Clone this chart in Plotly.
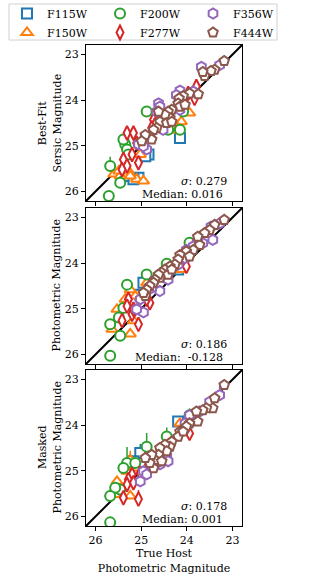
import plotly.graph_objects as go
from plotly.subplots import make_subplots

# ==========================================
# DATA (true host mag, recovered mag[, error])
# ==========================================
filters = ["F115W", "F150W", "F200W", "F277W", "F356W", "F444W"]
colors = {"F115W": "#1f77b4", "F150W": "#ff7f0e", "F200W": "#2ca02c",
          "F277W": "#d62728", "F356W": "#9467bd", "F444W": "#8c564b"}
symbols = {"F115W": "square", "F150W": "triangle-up", "F200W": "circle",
           "F277W": "diamond-tall", "F356W": "hexagon", "F444W": "pentagon"}
legend_rank = {"F115W": 1, "F200W": 2, "F356W": 3, "F150W": 4, "F277W": 5, "F444W": 6}

# panel 1: best-fit Sersic magnitude
sersic_f115w = [(24.15, 24.83), (24.84, 25.19), (24.91, 25.23), (25.06, 25.70), (25.17, 25.73), (25.39, 25.66)]
sersic_f150w = [(23.94, 24.28), (24.12, 24.47), (24.19, 24.61), (24.37, 24.66), (25.60, 25.62), (25.28, 25.55),
                (25.10, 25.73), (25.24, 25.66), (25.46, 25.66), (25.49, 25.55), (24.95, 25.77), (25.02, 25.19)]
sersic_f200w = [(24.88, 24.25), (24.15, 24.65), (24.08, 24.25), (24.41, 24.65), (25.35, 24.97), (25.31, 25.08),
                (25.28, 25.19), (25.68, 25.44, 0.2), (25.39, 24.86), (25.46, 25.81, 0.15), (25.71, 26.10)]
sersic_f277w = [(23.79, 23.70), (23.83, 23.96), (23.97, 23.85), (24.73, 24.43), (24.70, 24.54), (24.77, 24.61),
                (25.31, 24.72), (25.17, 24.72), (25.10, 24.94), (25.39, 25.30), (25.20, 25.19), (25.06, 25.37),
                (25.31, 25.44), (25.42, 25.52)]
sersic_f356w = [(23.68, 23.27), (23.28, 23.23), (24.15, 23.79), (24.23, 23.89), (23.86, 23.81), (24.62, 24.07),
                (24.59, 24.14), (24.66, 24.25), (24.15, 24.21), (24.52, 24.65), (24.91, 24.79), (24.88, 25.08),
                (25.06, 24.97), (24.95, 25.01)]
sersic_f444w = [(23.18, 23.14), (23.39, 23.33), (23.47, 23.36), (23.61, 23.47), (23.65, 23.38), (23.75, 23.87),
                (23.94, 23.85), (24.08, 23.91), (24.17, 23.96), (24.19, 24.07), (24.15, 24.14), (24.04, 24.10),
                (24.33, 24.21), (24.41, 24.25), (24.37, 24.39), (24.48, 24.32), (24.62, 24.25), (24.59, 24.47),
                (24.44, 24.50), (24.33, 24.47), (24.66, 24.61), (24.73, 24.65), (24.81, 24.79), (24.77, 24.86),
                (24.91, 24.76), (24.99, 24.90)]

# panel 2: photometric magnitude
phot_f115w = [(24.95, 24.43), (24.19, 24.14), (25.02, 24.69)]
phot_f150w = [(24.12, 24.14), (24.88, 24.43), (25.24, 24.58), (25.35, 24.79), (25.53, 25.01), (25.64, 25.45),
              (25.24, 25.55), (25.17, 25.26), (25.13, 24.72)]
phot_f200w = [(23.94, 23.55), (24.44, 24.01), (24.88, 24.25), (25.31, 24.47), (25.39, 24.98), (25.49, 25.19),
              (25.68, 25.34), (25.46, 25.59), (25.68, 26.03)]
phot_f277w = [(23.79, 23.49), (24.01, 24.07), (24.81, 24.87), (24.88, 24.72), (25.28, 24.79), (25.31, 24.94),
              (25.20, 25.12), (25.17, 25.01), (25.42, 25.26), (25.06, 25.34), (24.88, 24.79)]
phot_f356w = [(23.28, 23.13), (23.47, 23.20), (23.43, 23.49), (23.65, 23.56), (23.76, 23.53), (23.86, 23.63),
              (24.01, 23.71), (24.04, 23.89), (24.19, 24.03), (24.41, 24.36), (24.59, 24.61), (24.77, 24.54),
              (25.02, 24.79), (24.95, 25.08), (25.10, 25.01)]
phot_f444w = [(23.18, 23.05), (23.39, 23.16), (23.50, 23.27), (23.61, 23.34), (23.72, 23.60), (23.86, 23.71),
              (24.01, 23.74), (24.15, 23.82), (24.19, 23.92), (24.26, 24.03), (24.37, 24.07), (24.48, 24.14),
              (24.55, 24.21), (24.59, 24.32), (24.62, 24.25), (24.70, 24.36), (24.73, 24.43), (24.81, 24.50),
              (24.88, 24.58), (24.91, 24.72), (24.95, 24.65), (24.41, 24.25), (24.33, 24.14), (23.94, 23.85),
              (23.76, 23.42)]

# panel 3: masked photometric magnitude
masked_f115w = [(24.19, 23.92), (25.02, 24.61, 0.2), (25.17, 24.79)]
masked_f150w = [(24.15, 23.96), (25.13, 24.94), (25.24, 24.76, 0.2), (25.53, 25.23), (25.60, 25.44),
                (25.24, 25.55), (25.57, 25.52), (25.31, 25.01)]
masked_f200w = [(23.94, 23.78, 0.15), (24.44, 24.25, 0.2), (24.88, 24.47, 0.3), (25.31, 24.83, 0.35),
                (25.13, 24.83), (25.39, 24.94), (25.46, 25.41), (25.57, 25.37, 0.12), (25.68, 25.55), (25.68, 26.13)]
masked_f277w = [(23.94, 24.18, 0.15), (24.01, 24.07), (24.84, 24.86), (24.77, 24.83), (25.02, 25.05),
                (25.20, 25.08), (25.28, 25.19), (25.17, 25.26), (25.31, 25.30), (25.39, 25.59), (25.06, 25.62, 0.2)]
masked_f356w = [(23.28, 23.34, 0.2), (23.50, 23.49), (23.72, 23.70), (23.90, 23.85), (24.04, 23.96), (23.94, 23.78),
                (24.44, 24.68), (24.52, 24.79), (24.59, 24.86), (24.66, 24.83), (24.95, 25.01), (25.02, 25.23),
                (24.88, 25.08), (24.41, 24.79)]
masked_f444w = [(23.18, 23.12), (23.39, 23.41), (23.43, 23.63), (23.57, 23.63), (23.65, 23.67), (23.79, 23.70),
                (23.76, 23.92), (23.94, 23.96), (24.01, 24.03), (24.15, 24.14), (24.19, 24.25), (24.08, 24.14),
                (24.33, 24.36), (24.37, 24.47), (24.48, 24.43), (24.44, 24.57), (24.59, 24.50), (24.62, 24.65),
                (24.70, 24.76), (24.73, 24.94), (24.81, 24.83), (24.77, 24.65), (24.91, 24.72), (24.55, 24.79)]

panels = [
    dict(zip(filters, [sersic_f115w, sersic_f150w, sersic_f200w, sersic_f277w, sersic_f356w, sersic_f444w])),
    dict(zip(filters, [phot_f115w, phot_f150w, phot_f200w, phot_f277w, phot_f356w, phot_f444w])),
    dict(zip(filters, [masked_f115w, masked_f150w, masked_f200w, masked_f277w, masked_f356w, masked_f444w])),
]
y_titles = ["Best-Fit<br>Sersic Magnitude", "Photometric Magnitude", "Masked<br>Photometric Magnitude"]
sigmas = ["0.279", "0.186", "0.178"]
medians = ["0.016", "\u00a0-0.128", "0.001"]
mag_range = [26.21, 22.79]
mag_ticks = [26, 25, 24, 23]

FONT = "DejaVu Serif"
W, H = 320, 579

# ==========================================
# FIGURE
# ==========================================
fig = make_subplots(rows=3, cols=1, shared_xaxes=True)

for i, data in enumerate(panels):
    row = i + 1
    # 1:1 line
    fig.add_trace(go.Scatter(x=mag_range, y=mag_range, mode="lines",
                             line=dict(color="black", width=2), showlegend=False,
                             hoverinfo="skip"), row=row, col=1)
    for f in filters:
        pts = data[f]
        xs = [p[0] for p in pts]
        ys = [p[1] for p in pts]
        errs = [p[2] if len(p) > 2 else 0 for p in pts]
        fig.add_trace(go.Scatter(
            x=xs, y=ys, mode="markers", name=f,
            showlegend=(i == 0), legendrank=legend_rank[f],
            marker=dict(symbol=symbols[f], size=10, color="white",
                        line=dict(color=colors[f], width=2)),
            error_y=dict(type="data", array=[e * 0.3 for e in errs], arrayminus=errs,
                         color=colors[f], thickness=1.5, width=0, visible=any(errs)),
        ), row=row, col=1)

    sfx = str(row) if row > 1 else ""
    fig.add_annotation(xref=f"x{sfx} domain", yref=f"y{sfx} domain",
                       x=0.915, y=0.125, xanchor="right", yanchor="middle", showarrow=False,
                       text=f"<i>σ</i>: {sigmas[i]}", font=dict(family=FONT, size=11, color="black"))
    fig.add_annotation(xref=f"x{sfx} domain", yref=f"y{sfx} domain",
                       x=0.89, y=0.04, xanchor="right", yanchor="middle", showarrow=False,
                       text=f"Median: {medians[i]}", font=dict(family=FONT, size=11, color="black"))
    # y label, right-aligned next to the tick labels (like matplotlib)
    fig.add_annotation(xref="paper", yref=f"y{sfx} domain", x=65 / W, y=0.5,
                       xanchor="right", yanchor="middle", showarrow=False, textangle=-90,
                       text=y_titles[i], font=dict(family=FONT, size=11, color="black"))

# panel placement (square panels, figure fractions)
y_domains = [[0.6528, 0.9223], [0.3713, 0.6408], [0.0915, 0.3610]]
for i in range(3):
    row = i + 1
    fig.update_xaxes(domain=[0.26875, 0.75625], range=mag_range, tickvals=mag_ticks,
                     showticklabels=(row == 3), row=row, col=1)
    fig.update_yaxes(domain=y_domains[i], range=mag_range, tickvals=mag_ticks, row=row, col=1)

axis_style = dict(showline=True, linecolor="black", linewidth=1.3, mirror=True,
                  ticks="outside", ticklen=4, tickcolor="black", tickwidth=1,
                  showgrid=False, zeroline=False, automargin=False,
                  tickfont=dict(family=FONT, size=11, color="black"),
                  title_font=dict(family=FONT, size=11, color="black"))
fig.update_xaxes(**axis_style)
fig.update_yaxes(**axis_style)
fig.update_xaxes(title=dict(text="True Host<br>Photometric Magnitude", standoff=2), row=3, col=1)

# legend frame
fig.add_shape(type="rect", xref="paper", yref="paper",
              x0=9 / W, x1=277 / W, y0=1 - 40 / H, y1=1 - 4 / H,
              line=dict(color="#d0d0d0", width=1), fillcolor="white", layer="below")

fig.update_layout(
    width=W, height=H,
    margin=dict(l=0, r=0, t=0, b=0, autoexpand=False),
    plot_bgcolor="white", paper_bgcolor="white",
    font=dict(family=FONT, size=11, color="black"),
    legend=dict(orientation="h", x=7 / W, y=1 + 1 / H, xanchor="left", yanchor="top",
                entrywidth=48, entrywidthmode="pixels", itemwidth=30,
                borderwidth=0, bgcolor="rgba(0,0,0,0)",
                font=dict(family=FONT, size=11, color="black")),
)

# page has a default 8px body margin; drop it so the figure fills the window
fig.write_html("out.html", config={"displayModeBar": False},
               post_script="document.body.style.margin = '0';")
